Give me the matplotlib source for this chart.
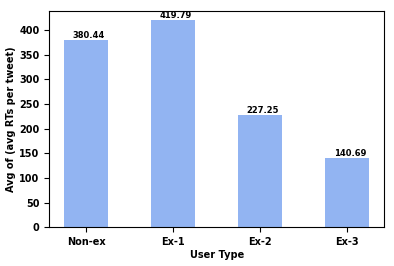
import matplotlib
matplotlib.use("Agg")
import matplotlib.pyplot as plt

categories = ["Non-ex", "Ex-1", "Ex-2", "Ex-3"]
values = [380.44, 419.79, 227.25, 140.69]

plt.rcParams['font.weight'] = 'bold'
fig, ax = plt.subplots(figsize=(3.94, 2.66), dpi=100)
fig.subplots_adjust(left=0.125, right=0.975, top=0.96, bottom=0.145)
x = range(len(categories))
bars = ax.bar(x, values, width=0.5, color='cornflowerblue', alpha=0.7)
for xi, v in zip(x, values):
    ax.text(xi + 0.03, v, f"{v:.2f}", ha='center', va='bottom', fontsize=6, fontweight='bold')
ax.set_xticks(list(x))
ax.set_xticklabels(categories, fontsize=7, fontweight='bold')
ax.tick_params(axis='y', labelsize=7)
for t in ax.get_yticklabels():
    t.set_fontweight('bold')
ax.set_xlim(-0.425, 3.425)
ax.set_ylim(0, 439)
ax.set_xlabel("User Type", fontsize=7, fontweight='bold', labelpad=2)
ax.set_ylabel("Avg of (avg RTs per tweet)", fontsize=7, fontweight='bold', labelpad=2)
fig.savefig("out.png", dpi=100)
